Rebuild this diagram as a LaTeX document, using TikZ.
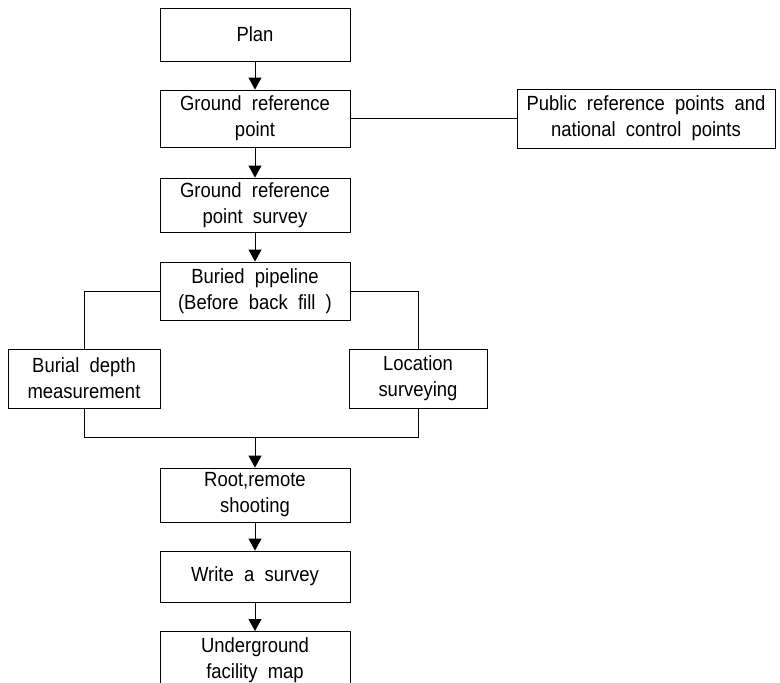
\documentclass[tikz,border=0pt]{standalone}
\usepackage{fontspec}
\setmainfont{Liberation Sans}[FakeStretch=0.9]
\usetikzlibrary{arrows.meta}
\begin{document}
\begin{tikzpicture}[x=1pt,y=-1pt,
  box/.style={draw, line width=0.9pt, align=center, inner sep=0pt,
    font=\fontsize{20.5}{26}\selectfont},
  arr/.style={-{Triangle[width=13pt,length=12pt]}, line width=0.9pt},
  ln/.style={line width=0.9pt}]
\useasboundingbox (0,0) rectangle (780,683);
\clip (0,0) rectangle (780,683);
\fill[white] (0,0) rectangle (780,683);
\node[box, minimum width=190pt, minimum height=53pt] (plan) at (255,34.5) {Plan};
\node[box, minimum width=190pt, minimum height=57pt] (grp) at (255,118.5) {Ground\ \ reference\\point};
\node[box, minimum width=258pt, minimum height=59pt] (pub) at (646,118.5) {Public\ \ reference\ \ points\ \ and\\national\ \ control\ \ points};
\node[box, minimum width=190pt, minimum height=54pt] (grps) at (255,205) {Ground\ \ reference\\point\ \ survey};
\node[box, minimum width=190pt, minimum height=58pt] (bp) at (255,291) {Buried\ \ pipeline\\(Before\ \ back\ \ fill\ \ )};
\node[box, minimum width=152pt, minimum height=59pt] (bd) at (84,378.5) {Burial\ \ depth\\measurement};
\node[box, minimum width=138pt, minimum height=59pt] (loc) at (418,378.5) {Location\\surveying};
\coordinate (join) at (255,437);
\node[box, minimum width=190pt, minimum height=54pt] (root) at (255,495) {Root,remote\\shooting};
\node[box, minimum width=190pt, minimum height=51pt] (write) at (255,576.5) {Write\ \ a\ \ survey};
\node[box, minimum width=190pt, minimum height=57pt, anchor=north] (ug) at (255,631) {Underground\\facility\ \ map};
\draw[arr] (plan) -- (grp);
\draw[ln] (grp) -- (pub);
\draw[arr] (grp) -- (grps);
\draw[arr] (grps) -- (bp);
\draw[ln] (bp.west) -| (bd.north);
\draw[ln] (bp.east) -| (loc.north);
\draw[ln] (bd.south) |- (join);
\draw[ln] (loc.south) |- (join);
\draw[arr] (join) -- (root);
\draw[arr] (root) -- (write);
\draw[arr] (write) -- (ug);
\end{tikzpicture}
\end{document}
